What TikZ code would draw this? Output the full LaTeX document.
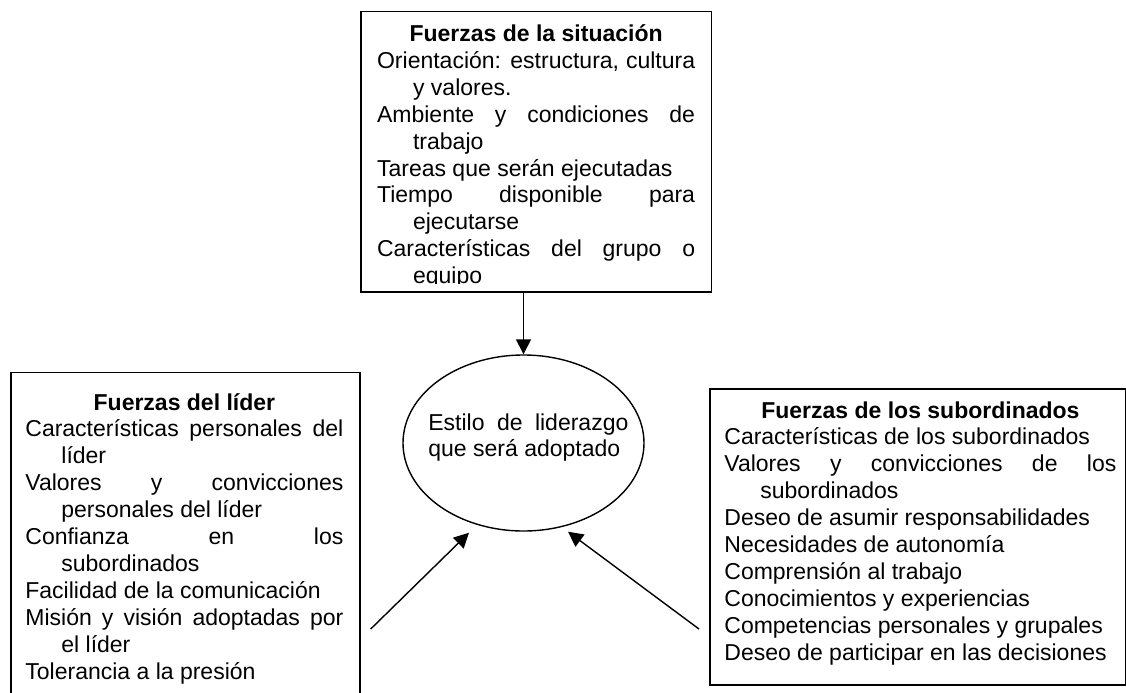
\documentclass[tikz,border=0pt]{standalone}
\usepackage{fontspec}
\setmainfont{Liberation Sans}
\usetikzlibrary{arrows.meta,shapes.geometric,calc}

\newcommand{\itm}[1]{\hangindent=18pt\hangafter=1\relax #1\par}

\tikzset{
  caja/.style={draw,line width=0.8pt,inner sep=0pt,anchor=north west},
  texto/.style={inner sep=0pt,anchor=base west,align=justify,
    font=\fontsize{11.5}{13.45}\selectfont},
  flecha/.style={-{Triangle[length=7.5pt,width=7.5pt]},line width=0.7pt},
}

\begin{document}
\begin{tikzpicture}[x=0.5pt,y=-0.5pt]
  \useasboundingbox (0,0) rectangle (1126,692);
  % situacion
  \node[caja,minimum width=175.25pt,minimum height=140.15pt] (sit) at (360,10.7) {};
  \begin{scope}
    \clip (360,10.7) rectangle (711,283);
    \node[texto,text width=159pt] (sittxt) at (376.7,41.5) {%
      {\centering\bfseries Fuerzas de la situación\par}
      \itm{Orientación: estructura, cultura\linebreak y valores.}
      \itm{Ambiente y condiciones de\linebreak trabajo}
      \itm{Tareas que serán ejecutadas}
      \itm{Tiempo disponible para\linebreak ejecutarse}
      \itm{Características del grupo o\linebreak equipo}};
  \end{scope}
  % lider
  \node[caja,minimum width=174.5pt,minimum height=170pt] (lid) at (10,371.7) {};
  \node[texto,text width=159pt] (lidtxt) at (25,410) {%
    {\centering\bfseries Fuerzas del líder\par}
    \itm{Características personales del\linebreak líder}
    \itm{Valores y convicciones\linebreak personales del líder}
    \itm{Confianza en los\linebreak subordinados}
    \itm{Facilidad de la comunicación}
    \itm{Misión y visión adoptadas por\linebreak el líder}
    \itm{Tolerancia a la presión}};
  % subordinados
  \node[caja,minimum width=208pt,minimum height=148pt] (sub) at (709,388) {};
  \node[texto,text width=196pt] (subtxt) at (724,418) {%
    {\centering\bfseries Fuerzas de los subordinados\par}
    \itm{Características de los subordinados}
    \itm{Valores y convicciones de los\linebreak subordinados}
    \itm{Deseo de asumir responsabilidades}
    \itm{Necesidades de autonomía}
    \itm{Comprensión al trabajo}
    \itm{Conocimientos y experiencias}
    \itm{Competencias personales y grupales}
    \itm{Deseo de participar en las decisiones}};
  % estilo
  \node[ellipse,draw,line width=0.7pt,inner sep=0pt,minimum width=120.5pt,
    minimum height=88pt] (estilo) at (523.5,443) {};
  \node[texto,text width=100pt] (estilotxt) at (428,430)
    {Estilo de liderazgo\linebreak que será adoptado};
  \coordinate (lcola) at (370.7,629);
  \coordinate (rcola) at (699,629);
  \coordinate (lpunta) at ([xshift=-27.25pt,yshift=-0.5pt]estilo.south);
  \coordinate (rpunta) at ([xshift=22.25pt]estilo.south);
  \draw[flecha] (sit.south -| estilo.north) -- (estilo.north);
  \draw[flecha] (lcola) -- (lpunta);
  \draw[flecha] (rcola) -- (rpunta);
\end{tikzpicture}
\end{document}
